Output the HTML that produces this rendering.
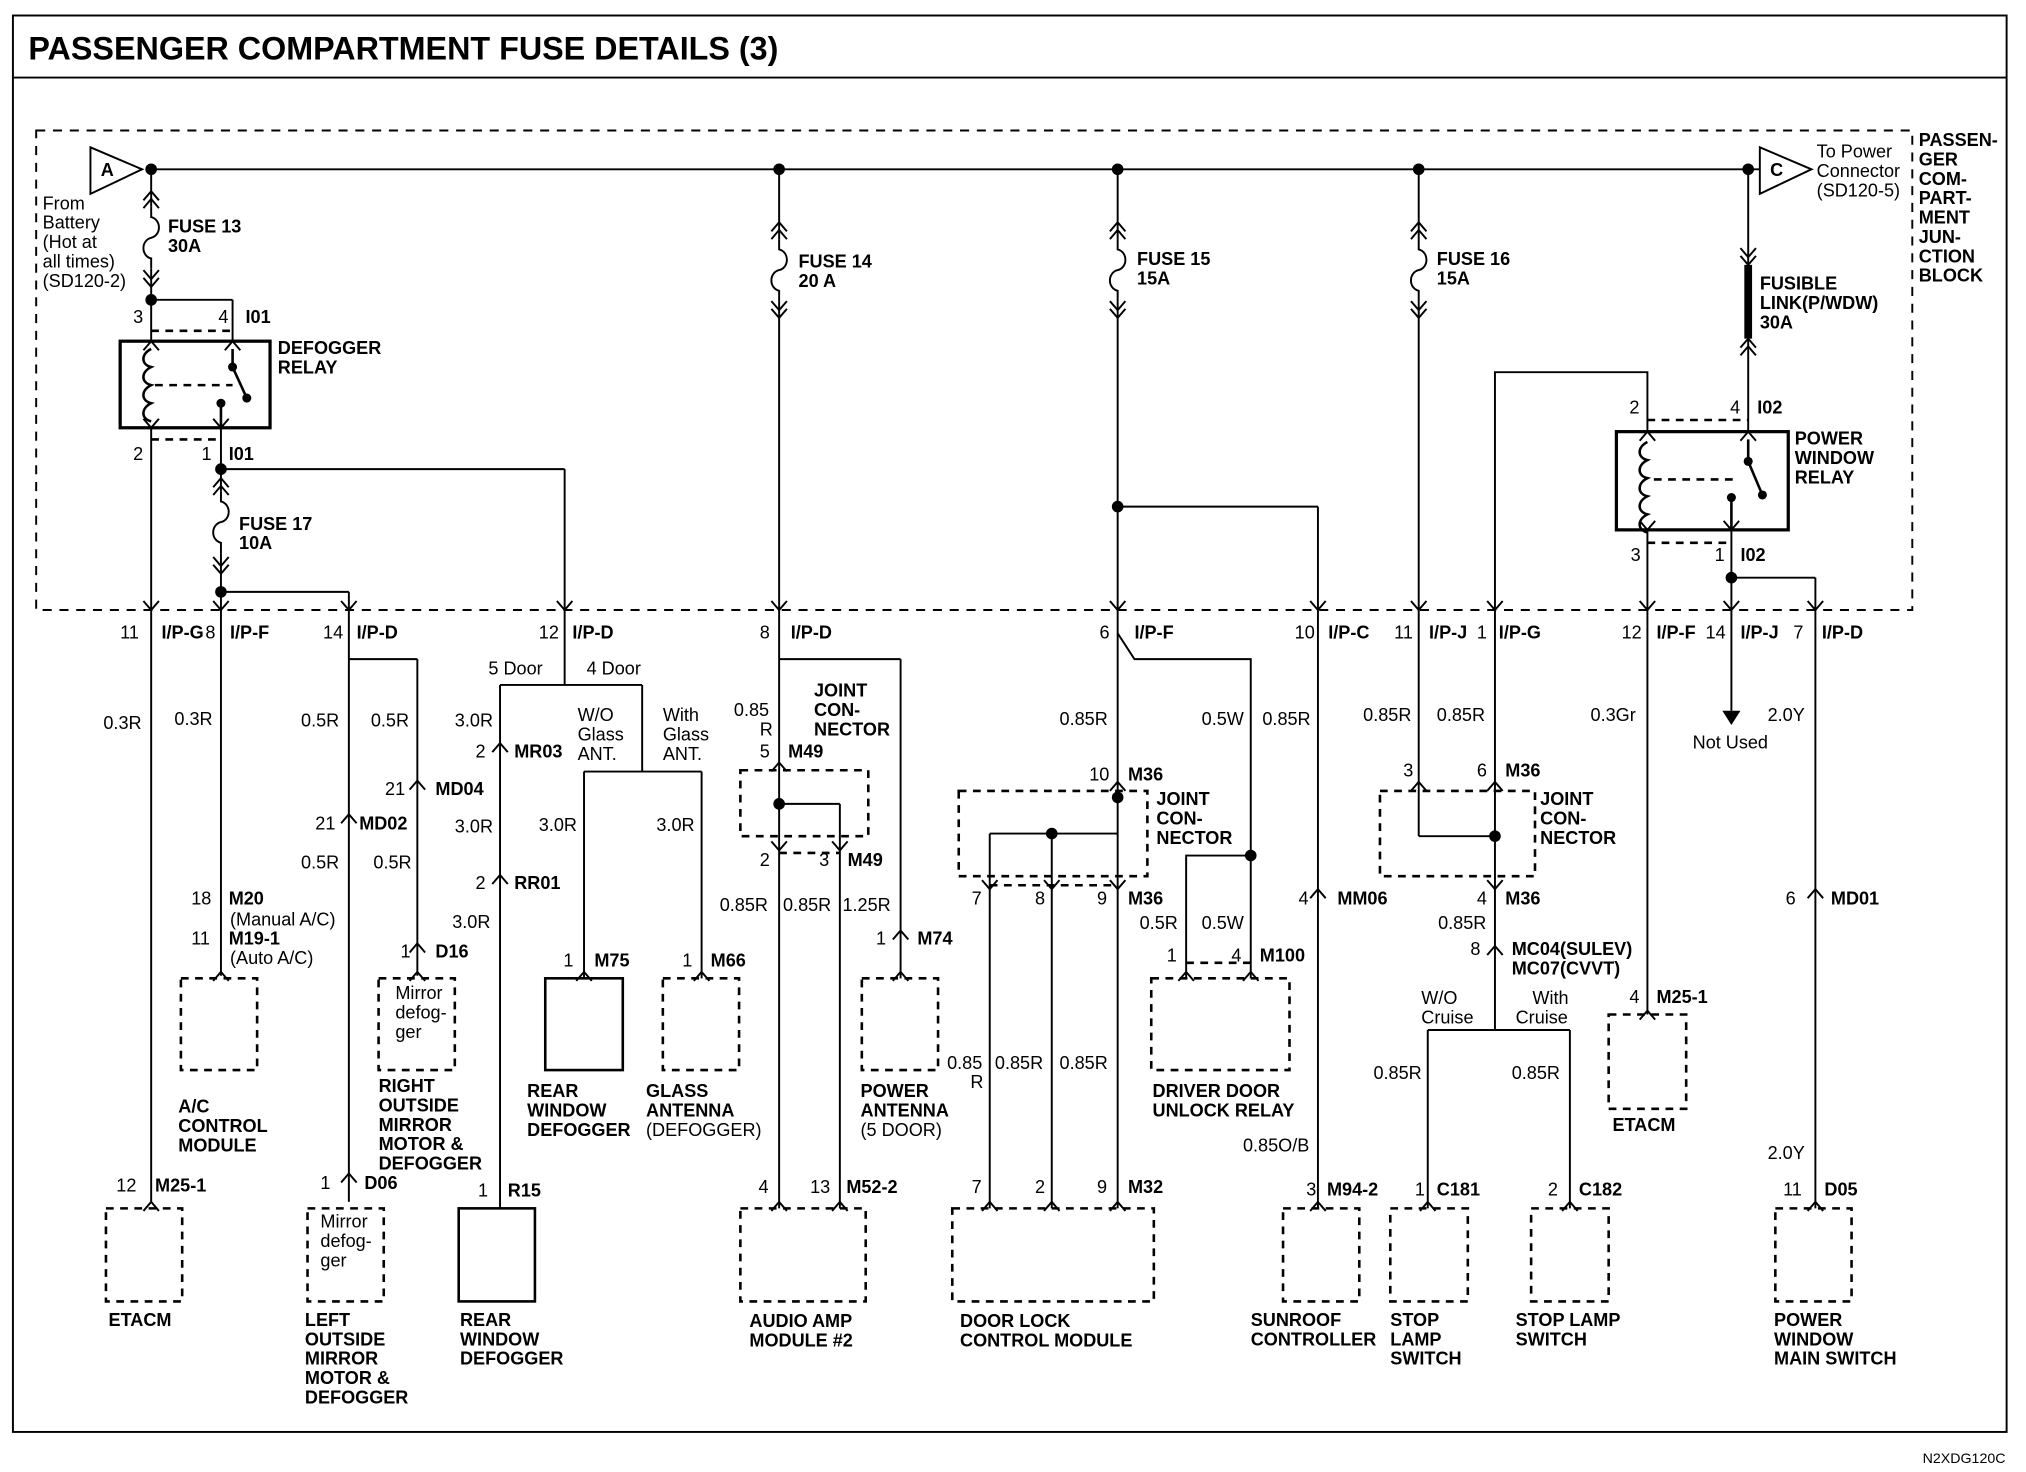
<!DOCTYPE html>
<html><head><meta charset="utf-8"><style>
html,body{margin:0;padding:0;background:#fff}
svg{display:block}
text{font-family:"Liberation Sans",Arial,sans-serif;font-size:14px;fill:#000}
.b{font-weight:bold}
</style></head><body>
<svg width="2026" height="1472" viewBox="0 0 1568 1139" preserveAspectRatio="none" xmlns="http://www.w3.org/2000/svg">
<defs>
<path id="up" d="M-6,7 L0,0 L6,7 M-6,13 L0,6 L6,13" fill="none" stroke="#000" stroke-width="1.5"/>
<path id="dn" d="M-6,-7 L0,0 L6,-7 M-6,-13 L0,-6 L6,-13" fill="none" stroke="#000" stroke-width="1.5"/>
<path id="cu" d="M-6,7 L0,0 L6,7" fill="none" stroke="#000" stroke-width="1.5"/>
<path id="cd" d="M-6,-7 L0,0 L6,-7" fill="none" stroke="#000" stroke-width="1.5"/>
<path id="fz" d="M0,0 L0,8 C8,10 8,22 0,24 C-8,26 -8,38 0,40 L0,48" fill="none" stroke="#000" stroke-width="1.5"/>
</defs>
<rect x="0" y="0" width="1568" height="1139" fill="#fff"/>
<rect x="10" y="12" width="1543" height="1096" fill="none" stroke="#000" stroke-width="1.5"/>
<line x1="10" y1="60" x2="1553" y2="60" stroke="#000" stroke-width="1.5"/>
<text x="22" y="46" class="b" style="font-size:25px">PASSENGER COMPARTMENT FUSE DETAILS (3)</text>
<text x="1488" y="1132" style="font-size:11px">N2XDG120C</text>
<rect x="28" y="101" width="1452" height="371" fill="none" stroke="#000" stroke-width="1.5" stroke-dasharray="7,6"/>
<g stroke="#000" stroke-width="1.5" fill="none">
<line x1="117" y1="131" x2="1362" y2="131"/>
<polygon points="70,114 110,131 70,150"/>
<polygon points="1362,114 1402,131 1362,150"/>
<line x1="117" y1="131" x2="117" y2="160"/><line x1="117" y1="208" x2="117" y2="232"/>
<line x1="117" y1="232" x2="180" y2="232"/><line x1="180" y1="232" x2="180" y2="264"/>
<line x1="117" y1="232" x2="117" y2="264"/>
<rect x="93" y="264" width="116" height="67" stroke-width="2.5"/>
<line x1="117" y1="331" x2="117" y2="930"/>
<line x1="171" y1="331" x2="171" y2="380"/><line x1="171" y1="428" x2="171" y2="755"/>
<line x1="171" y1="363" x2="437" y2="363"/><line x1="437" y1="363" x2="437" y2="530"/>
<line x1="171" y1="458" x2="270" y2="458"/><line x1="270" y1="458" x2="270" y2="930"/>
<line x1="270" y1="510" x2="323" y2="510"/><line x1="323" y1="510" x2="323" y2="755"/>
<line x1="387" y1="530" x2="497" y2="530"/><line x1="387" y1="530" x2="387" y2="935"/><line x1="497" y1="530" x2="497" y2="597"/>
<line x1="452" y1="597" x2="543" y2="597"/><line x1="452" y1="597" x2="452" y2="757"/><line x1="543" y1="597" x2="543" y2="757"/>
<line x1="603" y1="131" x2="603" y2="185"/><line x1="603" y1="233" x2="603" y2="935"/>
<line x1="603" y1="510" x2="697" y2="510"/><line x1="697" y1="510" x2="697" y2="757"/>
<line x1="603" y1="622" x2="650" y2="622"/><line x1="650" y1="622" x2="650" y2="935"/>
<line x1="865" y1="131" x2="865" y2="185"/><line x1="865" y1="233" x2="865" y2="935"/>
<line x1="865" y1="392" x2="1020" y2="392"/><line x1="1020" y1="392" x2="1020" y2="935"/>
<polyline points="865,490 878,510 968,510 968,757"/>
<polyline points="918,757 918,662 968,662"/>
<line x1="766" y1="645" x2="865" y2="645"/><line x1="766" y1="645" x2="766" y2="935"/><line x1="814" y1="645" x2="814" y2="935"/>
<line x1="1098" y1="131" x2="1098" y2="185"/><line x1="1098" y1="233" x2="1098" y2="647"/>
<line x1="1098" y1="647" x2="1157" y2="647"/>
<polyline points="1157,797 1157,288 1275,288 1275,334"/>
<line x1="1105" y1="797" x2="1215" y2="797"/><line x1="1105" y1="797" x2="1105" y2="935"/><line x1="1215" y1="797" x2="1215" y2="935"/>
<line x1="1353" y1="131" x2="1353" y2="334"/>
<line x1="1353" y1="205" x2="1353" y2="262" stroke-width="6"/>
<rect x="1251" y="334" width="133" height="76" stroke-width="2.5"/>
<line x1="1275" y1="410" x2="1275" y2="785"/>
<line x1="1340" y1="410" x2="1340" y2="550"/>
<line x1="1340" y1="447" x2="1405" y2="447"/><line x1="1405" y1="447" x2="1405" y2="935"/>
</g>
<polygon points="1333,550 1347,550 1340,561" fill="#000"/>
<use href="#fz" x="117" y="160"/><use href="#fz" x="171" y="380"/><use href="#fz" x="603" y="185"/>
<use href="#fz" x="865" y="185"/><use href="#fz" x="1098" y="185"/>
<g>
<use href="#up" x="117" y="148"/><use href="#dn" x="117" y="222"/>
<use href="#up" x="171" y="370"/><use href="#dn" x="171" y="444"/>
<use href="#up" x="603" y="172"/><use href="#dn" x="603" y="246"/>
<use href="#up" x="865" y="172"/><use href="#dn" x="865" y="246"/>
<use href="#up" x="1098" y="172"/><use href="#dn" x="1098" y="246"/>
<use href="#dn" x="1353" y="205"/><use href="#up" x="1353" y="262"/>
<use href="#cd" x="117" y="472"/><use href="#cd" x="171" y="472"/><use href="#cd" x="270" y="472"/><use href="#cd" x="437" y="472"/>
<use href="#cd" x="603" y="472"/><use href="#cd" x="865" y="472"/><use href="#cd" x="1020" y="472"/><use href="#cd" x="1098" y="472"/>
<use href="#cd" x="1157" y="472"/><use href="#cd" x="1275" y="472"/><use href="#cd" x="1340" y="472"/><use href="#cd" x="1405" y="472"/>
<use href="#cu" x="117" y="264"/><use href="#cu" x="180" y="264"/><use href="#cd" x="117" y="331"/><use href="#cd" x="171" y="331"/>
<use href="#cu" x="1275" y="334"/><use href="#cu" x="1353" y="334"/><use href="#cd" x="1275" y="410"/><use href="#cd" x="1340" y="410"/>
<use href="#cu" x="387" y="575"/><use href="#cu" x="323" y="604"/><use href="#cu" x="270" y="630"/><use href="#cu" x="387" y="677"/>
<use href="#cu" x="323" y="730"/><use href="#cu" x="270" y="908"/><use href="#cu" x="603" y="590"/><use href="#cd" x="603" y="658"/><use href="#cd" x="650" y="658"/>
<use href="#cu" x="697" y="720"/><use href="#cu" x="865" y="605"/><use href="#cd" x="766" y="688"/><use href="#cd" x="814" y="688"/><use href="#cd" x="865" y="688"/>
<use href="#cu" x="1020" y="688"/><use href="#cu" x="1098" y="605"/><use href="#cu" x="1157" y="605"/><use href="#cd" x="1157" y="688"/><use href="#cu" x="1157" y="732"/>
<use href="#cu" x="1405" y="688"/>
<use href="#cu" x="117" y="930"/><use href="#cu" x="603" y="930"/><use href="#cu" x="650" y="930"/><use href="#cu" x="766" y="930"/><use href="#cu" x="814" y="930"/><use href="#cu" x="865" y="930"/>
<use href="#cu" x="1020" y="930"/><use href="#cu" x="1105" y="930"/><use href="#cu" x="1215" y="930"/><use href="#cu" x="1405" y="930"/><use href="#cu" x="1275" y="782"/>
<use href="#cu" x="171" y="752"/><use href="#cu" x="323" y="752"/><use href="#cu" x="452" y="752"/><use href="#cu" x="543" y="752"/><use href="#cu" x="697" y="752"/><use href="#cu" x="918" y="752"/><use href="#cu" x="968" y="752"/>
</g>
<g fill="#000">
<circle cx="117" cy="131" r="4.5"/><circle cx="603" cy="131" r="4.5"/><circle cx="865" cy="131" r="4.5"/><circle cx="1098" cy="131" r="4.5"/><circle cx="1353" cy="131" r="4.5"/>
<circle cx="117" cy="232" r="4.5"/><circle cx="171" cy="363" r="4.5"/><circle cx="171" cy="458" r="4.5"/><circle cx="865" cy="392" r="4.5"/>
<circle cx="603" cy="622" r="4.5"/><circle cx="865" cy="617" r="4.5"/><circle cx="814" cy="645" r="4.5"/><circle cx="968" cy="662" r="4.5"/><circle cx="1157" cy="647" r="4.5"/><circle cx="1340" cy="447" r="4.5"/>
</g>
<g fill="none" stroke="#000" stroke-width="2" stroke-dasharray="6,5">
<rect x="82" y="935" width="59" height="72"/><rect x="140" y="757" width="59" height="71"/><rect x="293" y="757" width="59" height="71"/>
<rect x="238" y="935" width="59" height="72"/><rect x="513" y="757" width="59" height="71"/><rect x="667" y="757" width="59" height="71"/>
<rect x="573" y="596" width="99" height="51"/><rect x="573" y="935" width="97" height="72"/>
<rect x="742" y="612" width="146" height="66"/><rect x="737" y="935" width="156" height="72"/><rect x="891" y="757" width="107" height="71"/>
<rect x="993" y="935" width="59" height="72"/><rect x="1068" y="612" width="120" height="66"/><rect x="1076" y="935" width="60" height="72"/>
<rect x="1185" y="935" width="60" height="72"/><rect x="1245" y="785" width="60" height="73"/><rect x="1374" y="935" width="59" height="72"/>
<line x1="117" y1="340" x2="171" y2="340"/><line x1="117" y1="256" x2="180" y2="256"/><line x1="1275" y1="325" x2="1353" y2="325"/><line x1="1275" y1="420" x2="1340" y2="420"/>
<line x1="603" y1="660" x2="650" y2="660"/><line x1="766" y1="685" x2="865" y2="685"/><line x1="918" y1="745" x2="968" y2="745"/>
<line x1="120" y1="298" x2="180" y2="298"/><line x1="1280" y1="371" x2="1345" y2="371"/>
</g>
<g fill="none" stroke="#000" stroke-width="2">
<rect x="355" y="935" width="59" height="72"/><rect x="422" y="757" width="60" height="71"/>
<path d="M117,270 c-8,4 -8,12 0,14 c-8,4 -8,12 0,14 c-8,4 -8,12 0,14 c-8,4 -8,12 0,14"/>
<path d="M1275,342 c-8,4 -8,12 0,14 c-8,4 -8,12 0,14 c-8,4 -8,12 0,14 c-8,4 -8,12 0,14 c-8,4 -8,12 0,14"/>
<path d="M180,270 L180,284 L191,308"/><path d="M1353,340 L1353,357 L1364,383"/>
<line x1="171" y1="312" x2="171" y2="331"/><line x1="1340" y1="385" x2="1340" y2="410"/>
</g>
<g fill="#000"><circle cx="180" cy="284" r="3.5"/><circle cx="191" cy="308" r="3.5"/><circle cx="171" cy="312" r="3.5"/><circle cx="1353" cy="357" r="3.5"/><circle cx="1364" cy="383" r="3.5"/><circle cx="1340" cy="385" r="3.5"/></g>
<g class="b">
<text x="78" y="136">A</text><text x="1370" y="136">C</text>
<text x="130" y="180">FUSE 13</text><text x="130" y="195">30A</text>
<text x="618" y="207">FUSE 14</text><text x="618" y="222">20 A</text>
<text x="880" y="205">FUSE 15</text><text x="880" y="220">15A</text>
<text x="1112" y="205">FUSE 16</text><text x="1112" y="220">15A</text>
<text x="185" y="410">FUSE 17</text><text x="185" y="425">10A</text>
<text x="1362" y="224">FUSIBLE</text><text x="1362" y="239">LINK(P/WDW)</text><text x="1362" y="254">30A</text>
<text x="215" y="274">DEFOGGER</text><text x="215" y="289">RELAY</text>
<text x="1389" y="344">POWER</text><text x="1389" y="359">WINDOW</text><text x="1389" y="374">RELAY</text>
<text x="1485" y="113">PASSEN-</text><text x="1485" y="128">GER</text><text x="1485" y="143">COM-</text><text x="1485" y="158">PART-</text><text x="1485" y="173">MENT</text><text x="1485" y="188">JUN-</text><text x="1485" y="203">CTION</text><text x="1485" y="218">BLOCK</text>
<text x="190" y="250">I01</text><text x="177" y="356">I01</text><text x="1360" y="320">I02</text><text x="1347" y="434">I02</text>
<text x="125" y="494">I/P-G</text><text x="178" y="494">I/P-F</text><text x="276" y="494">I/P-D</text><text x="443" y="494">I/P-D</text><text x="612" y="494">I/P-D</text>
<text x="878" y="494">I/P-F</text><text x="1028" y="494">I/P-C</text><text x="1106" y="494">I/P-J</text><text x="1160" y="494">I/P-G</text><text x="1282" y="494">I/P-F</text><text x="1347" y="494">I/P-J</text><text x="1410" y="494">I/P-D</text>
<text x="630" y="539">JOINT</text><text x="630" y="554">CON-</text><text x="630" y="569">NECTOR</text>
<text x="895" y="623">JOINT</text><text x="895" y="638">CON-</text><text x="895" y="653">NECTOR</text>
<text x="1192" y="623">JOINT</text><text x="1192" y="638">CON-</text><text x="1192" y="653">NECTOR</text>
<text x="398" y="586">MR03</text><text x="337" y="615">MD04</text><text x="278" y="642">MD02</text><text x="398" y="688">RR01</text><text x="337" y="741">D16</text>
<text x="177" y="700">M20</text><text x="177" y="731">M19-1</text>
<text x="610" y="586">M49</text><text x="656" y="670">M49</text><text x="710" y="731">M74</text><text x="460" y="748">M75</text><text x="550" y="748">M66</text>
<text x="873" y="604">M36</text><text x="873" y="700">M36</text><text x="975" y="744">M100</text><text x="1035" y="700">MM06</text>
<text x="1165" y="601">M36</text><text x="1165" y="700">M36</text><text x="1170" y="739">MC04(SULEV)</text><text x="1170" y="754">MC07(CVVT)</text>
<text x="1282" y="776">M25-1</text><text x="1417" y="700">MD01</text>
<text x="120" y="922">M25-1</text><text x="282" y="920">D06</text><text x="393" y="926">R15</text><text x="655" y="923">M52-2</text><text x="873" y="923">M32</text>
<text x="1027" y="925">M94-2</text><text x="1112" y="925">C181</text><text x="1222" y="925">C182</text><text x="1412" y="925">D05</text>
<text x="138" y="861">A/C</text><text x="138" y="876">CONTROL</text><text x="138" y="891">MODULE</text>
<text x="293" y="845">RIGHT</text><text x="293" y="860">OUTSIDE</text><text x="293" y="875">MIRROR</text><text x="293" y="890">MOTOR &amp;</text><text x="293" y="905">DEFOGGER</text>
<text x="408" y="849">REAR</text><text x="408" y="864">WINDOW</text><text x="408" y="879">DEFOGGER</text>
<text x="500" y="849">GLASS</text><text x="500" y="864">ANTENNA</text>
<text x="666" y="849">POWER</text><text x="666" y="864">ANTENNA</text>
<text x="892" y="849">DRIVER DOOR</text><text x="892" y="864">UNLOCK RELAY</text>
<text x="1248" y="875">ETACM</text>
<text x="84" y="1026">ETACM</text>
<text x="236" y="1026">LEFT</text><text x="236" y="1041">OUTSIDE</text><text x="236" y="1056">MIRROR</text><text x="236" y="1071">MOTOR &amp;</text><text x="236" y="1086">DEFOGGER</text>
<text x="356" y="1026">REAR</text><text x="356" y="1041">WINDOW</text><text x="356" y="1056">DEFOGGER</text>
<text x="580" y="1027">AUDIO AMP</text><text x="580" y="1042">MODULE #2</text>
<text x="743" y="1027">DOOR LOCK</text><text x="743" y="1042">CONTROL MODULE</text>
<text x="968" y="1026">SUNROOF</text><text x="968" y="1041">CONTROLLER</text>
<text x="1076" y="1026">STOP</text><text x="1076" y="1041">LAMP</text><text x="1076" y="1056">SWITCH</text>
<text x="1173" y="1026">STOP LAMP</text><text x="1173" y="1041">SWITCH</text>
<text x="1373" y="1026">POWER</text><text x="1373" y="1041">WINDOW</text><text x="1373" y="1056">MAIN SWITCH</text>
</g>
<g>
<text x="33" y="162">From</text><text x="33" y="177">Battery</text><text x="33" y="192">(Hot at</text><text x="33" y="207">all times)</text><text x="33" y="222">(SD120-2)</text>
<text x="1406" y="122">To Power</text><text x="1406" y="137">Connector</text><text x="1406" y="152">(SD120-5)</text>
<text x="103" y="250">3</text><text x="169" y="250">4</text><text x="103" y="356">2</text><text x="156" y="356">1</text>
<text x="1261" y="320">2</text><text x="1339" y="320">4</text><text x="1262" y="434">3</text><text x="1327" y="434">1</text>
<text x="93" y="494">11</text><text x="159" y="494">8</text><text x="250" y="494">14</text><text x="417" y="494">12</text><text x="588" y="494">8</text>
<text x="851" y="494">6</text><text x="1002" y="494">10</text><text x="1079" y="494">11</text><text x="1143" y="494">1</text><text x="1255" y="494">12</text><text x="1320" y="494">14</text><text x="1388" y="494">7</text>
<text x="378" y="522">5 Door</text><text x="454" y="522">4 Door</text>
<text x="447" y="558">W/O</text><text x="447" y="573">Glass</text><text x="447" y="588">ANT.</text>
<text x="513" y="558">With</text><text x="513" y="573">Glass</text><text x="513" y="588">ANT.</text>
<text x="80" y="564">0.3R</text><text x="135" y="561">0.3R</text><text x="233" y="562">0.5R</text><text x="287" y="562">0.5R</text><text x="352" y="562">3.0R</text>
<text x="568" y="554">0.85</text><text x="588" y="569">R</text><text x="820" y="561">0.85R</text><text x="930" y="561">0.5W</text><text x="977" y="561">0.85R</text>
<text x="1055" y="558">0.85R</text><text x="1112" y="558">0.85R</text><text x="1231" y="558">0.3Gr</text><text x="1368" y="558">2.0Y</text>
<text x="1310" y="579">Not Used</text>
<text x="368" y="586">2</text><text x="298" y="615">21</text><text x="244" y="642">21</text><text x="368" y="688">2</text><text x="310" y="741">1</text>
<text x="352" y="644">3.0R</text><text x="417" y="643">3.0R</text><text x="508" y="643">3.0R</text><text x="233" y="672">0.5R</text><text x="289" y="672">0.5R</text><text x="350" y="718">3.0R</text>
<text x="148" y="700">18</text><text x="148" y="731">11</text><text x="178" y="716">(Manual A/C)</text><text x="178" y="746">(Auto A/C)</text>
<text x="588" y="586">5</text><text x="588" y="670">2</text><text x="634" y="670">3</text><text x="678" y="731">1</text><text x="436" y="748">1</text><text x="528" y="748">1</text>
<text x="557" y="705">0.85R</text><text x="606" y="705">0.85R</text><text x="652" y="705">1.25R</text>
<text x="843" y="604">10</text><text x="752" y="700">7</text><text x="801" y="700">8</text><text x="849" y="700">9</text>
<text x="882" y="719">0.5R</text><text x="930" y="719">0.5W</text><text x="903" y="744">1</text><text x="953" y="744">4</text><text x="1005" y="700">4</text>
<text x="1086" y="601">3</text><text x="1143" y="601">6</text><text x="1143" y="700">4</text><text x="1113" y="719">0.85R</text><text x="1138" y="739">8</text>
<text x="1100" y="777">W/O</text><text x="1100" y="792">Cruise</text><text x="1186" y="777">With</text><text x="1173" y="792">Cruise</text>
<text x="1261" y="776">4</text><text x="1382" y="700">6</text>
<text x="733" y="827">0.85</text><text x="751" y="842">R</text><text x="770" y="827">0.85R</text><text x="820" y="827">0.85R</text>
<text x="1063" y="835">0.85R</text><text x="1170" y="835">0.85R</text><text x="962" y="891">0.85O/B</text><text x="1368" y="897">2.0Y</text>
<text x="500" y="879">(DEFOGGER)</text><text x="666" y="879">(5 DOOR)</text>
<text x="306" y="773">Mirror</text><text x="306" y="788">defog-</text><text x="306" y="803">ger</text>
<text x="248" y="950">Mirror</text><text x="248" y="965">defog-</text><text x="248" y="980">ger</text>
<text x="90" y="922">12</text><text x="248" y="920">1</text><text x="370" y="926">1</text><text x="587" y="923">4</text><text x="627" y="923">13</text>
<text x="752" y="923">7</text><text x="801" y="923">2</text><text x="849" y="923">9</text><text x="1011" y="925">3</text><text x="1095" y="925">1</text><text x="1198" y="925">2</text><text x="1380" y="925">11</text>
</g>
</svg>
</body></html>
